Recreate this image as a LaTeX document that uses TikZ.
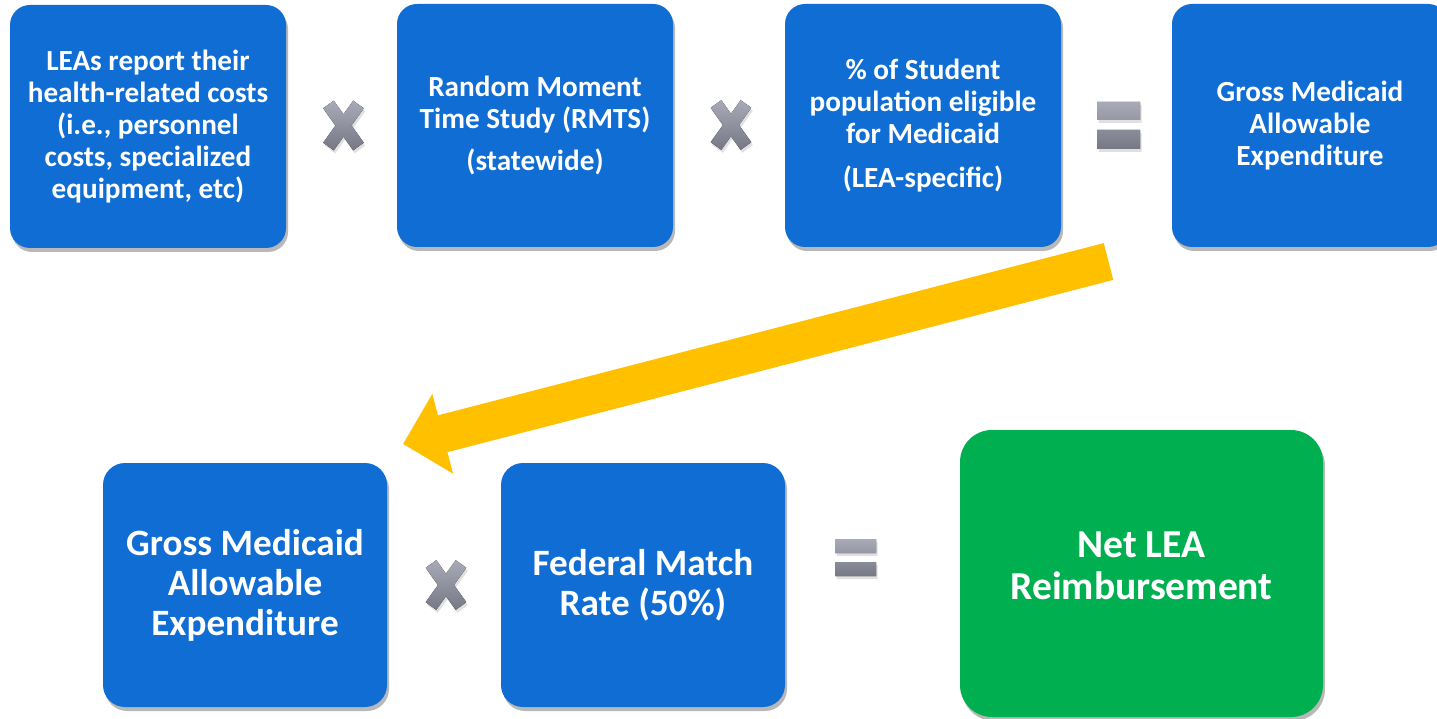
\documentclass[tikz,border=0pt]{standalone}
\usepackage{fontspec}
\setmainfont{Carlito}
\usetikzlibrary{shadows,arrows.meta}
\definecolor{boxblue}{RGB}{16,109,212}
\definecolor{boxgreen}{RGB}{0,175,80}
\definecolor{arrowyellow}{RGB}{255,192,0}
\definecolor{symtop}{RGB}{168,170,184}
\definecolor{symbot}{RGB}{118,120,134}
\tikzset{
  boxshadow/.style={drop shadow={shadow xshift=2pt,shadow yshift=-4pt,opacity=0.28,fill=black}},
  topbox/.style={fill=boxblue,rounded corners=20pt,minimum width=276pt,minimum height=243pt,
    text=white,align=center,inner sep=0pt,boxshadow,
    font=\fontsize{29.2}{32}\selectfont\bfseries},
  botbox/.style={fill=boxblue,rounded corners=22pt,minimum width=284pt,minimum height=244pt,
    text=white,align=center,inner sep=0pt,boxshadow,
    font=\fontsize{37.2}{40}\selectfont\bfseries},
  greenbox/.style={fill=boxgreen,rounded corners=32pt,minimum width=363pt,minimum height=287pt,
    inner sep=0pt,boxshadow},
  greentext/.style={text=white,align=center,inner sep=0pt,
    font=\fontsize{39.6}{42}\selectfont\bfseries},
  timesx/.pic={
    \fill[black,opacity=0.12,xshift=1.5pt,yshift=-3pt]
      (-20.3,-17.2) -- (9.7,24.8) -- (20.3,17.2) -- (-9.7,-24.8) -- cycle
      (9.7,-24.8) -- (-20.3,17.2) -- (-9.7,24.8) -- (20.3,-17.2) -- cycle;
    \fill[top color=symtop,bottom color=symbot]
      (-20.3,-17.2) -- (9.7,24.8) -- (20.3,17.2) -- (-9.7,-24.8) -- cycle
      (9.7,-24.8) -- (-20.3,17.2) -- (-9.7,24.8) -- (20.3,-17.2) -- cycle;
  },
  equalsign/.pic={
    \fill[black,opacity=0.12,xshift=1.5pt,yshift=-3pt]
      (-21.5,-23.5) rectangle (21.5,-5.5) (-21.5,4.5) rectangle (21.5,23.5);
    \fill[top color=symtop,bottom color=symbot]
      (-21.5,-23.5) rectangle (21.5,-5.5) (-21.5,4.5) rectangle (21.5,23.5);
  },
  smallequal/.pic={
    \fill[black,opacity=0.12,xshift=1.5pt,yshift=-3pt]
      (-20.5,-18.5) rectangle (20.5,-4.5) (-20.5,4.5) rectangle (20.5,18.5);
    \fill[top color=symtop,bottom color=symbot]
      (-20.5,-18.5) rectangle (20.5,-4.5) (-20.5,4.5) rectangle (20.5,18.5);
  },
  bigarrow/.style={draw=arrowyellow,line width=38pt,line cap=butt,
    -{Triangle[width=80pt,length=41pt,fill=arrowyellow]}}
}
\begin{document}
\begin{tikzpicture}[x=1pt,y=-1pt]
\useasboundingbox[fill=white] (0,0) rectangle (1437,719);

% top row
\node[topbox] (b1) at (148,126.5) {LEAs report their\\health-related costs\\(i.e., personnel\\costs, specialized\\equipment, etc)};
\node[topbox] (b2) at (535,125.5) {Random Moment\\Time Study (RMTS)\\[10pt](statewide)};
\node[topbox] (b3) at (923,125.5) {\% of Student\\population eligible\\for Medicaid\\[12pt](LEA-specific)};
\node[topbox] (b4) at (1310,125.5) {Gross Medicaid\\Allowable\\Expenditure};

\pic at (343.5,125.5) {timesx};
\pic at (731,125) {timesx};
\pic at (1118.5,125.5) {equalsign};

% bottom row
\node[botbox] (b5) at (245,585) {Gross Medicaid\\Allowable\\Expenditure};
\node[botbox] (b6) at (643,585) {Federal Match\\Rate (50\%)};
\node[greenbox] (b7) at (1141.5,573.5) {};
\node[greentext] (b7t) at ([yshift=8pt]b7.center) {Net LEA\\Reimbursement};

\pic at (446,585) {timesx};
\pic at (855.5,557.5) {smallequal};

% arrow
\coordinate (atail) at (1108.5,261.5);
\coordinate (ahead) at (403,444);
\draw[bigarrow] (atail) -- (ahead);
\end{tikzpicture}
\end{document}
